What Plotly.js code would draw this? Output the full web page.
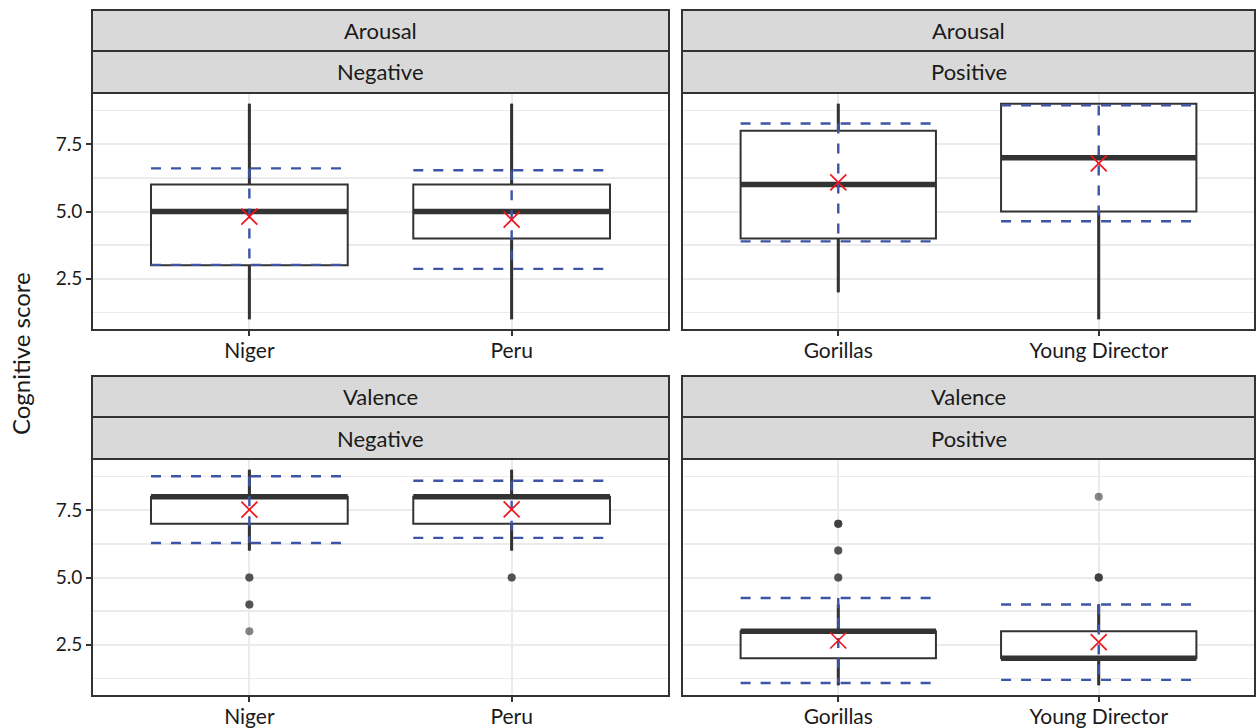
<!DOCTYPE html>
<html>
<head>
<meta charset="utf-8">
<script src="https://cdn.plot.ly/plotly-3.0.1.min.js"></script>
<style>html,body{margin:0;padding:0;background:#fff;}#chart{width:1256px;height:728px;}</style>
</head>
<body>
<div id="chart"></div>
<script>
// ---- data ----
const rowLabels = ['Arousal', 'Arousal', 'Valence', 'Valence'];
const colLabels = ['Negative', 'Positive', 'Negative', 'Positive'];
const categories = [['Niger', 'Peru'], ['Gorillas', 'Young Director'], ['Niger', 'Peru'], ['Gorillas', 'Young Director']];
const lowerWhisker = [[1, 1], [2, 1], [6, 6], [1, 1]];
const q1 = [[3, 4], [4, 5], [7, 7], [2, 2]];
const medians = [[5, 5], [6, 7], [8, 8], [3, 2]];
const q3 = [[6, 6], [8, 9], [8, 8], [3, 3]];
const upperWhisker = [[9, 9], [9, 9], [9, 9], [4, 4]];
const means = [[4.81, 4.70], [6.08, 6.79], [7.52, 7.53], [2.66, 2.60]];
const sds = [[1.79, 1.83], [2.19, 2.15], [1.24, 1.06], [1.58, 1.40]];
const outliers = [[[], []], [[], []], [[5, 5, 4, 4, 3], [5, 5]], [[5, 5, 6, 6, 7, 7, 7], [5, 5, 5, 8]]];
const yTickVals = [2.5, 5.0, 7.5];
const yTickText = ['2.5', '5.0', '7.5'];
const yTitle = 'Cognitive score';

// ---- layout constants ----
const W = 1256, H = 728;
const colDom = [[92 / W, 669 / W], [682 / W, 1255 / W]];
const rowDom = [[1 - 330 / H, 1 - 93 / H], [1 - 696 / H, 1 - 459 / H]];
const stripPx = [[[10, 51], [51, 93]], [[376, 417], [417, 459]]];
const halfW = 0.375;
const FONT = 'Lato, "Open Sans", sans-serif';
const dark = '#333333';
const blue = '#3C55A6';

const traces = [];
const layout = {
  width: W, height: H,
  margin: {l: 0, r: 0, t: 0, b: 0},
  paper_bgcolor: '#ffffff', plot_bgcolor: '#ffffff',
  showlegend: false,
  font: {family: FONT, color: '#333333', size: 16},
  shapes: [], annotations: []
};

for (let p = 0; p < 4; p++) {
  const r = Math.floor(p / 2), c = p % 2;
  const sfx = p === 0 ? '' : String(p + 1);
  const xa = 'x' + sfx, ya = 'y' + sfx;
  const cats = categories[p];
  const xs = cats.map((_, i) => i + 1);

  layout['xaxis' + sfx] = {
    domain: colDom[c], anchor: ya, range: [0.4, 2.6],
    tickvals: xs, ticktext: cats,
    ticks: 'outside', ticklen: 5, tickwidth: 2, tickcolor: dark,
    ticklabelstandoff: -3,
    showgrid: true, gridcolor: '#EBEBEB', gridwidth: 2,
    zeroline: false, showline: false,
    tickfont: {family: FONT, size: 21, color: '#1a1a1a'}, fixedrange: true
  };
  layout['yaxis' + sfx] = {
    domain: rowDom[r], anchor: xa, range: [0.6, 9.4],
    tickvals: yTickVals, ticktext: yTickText,
    showticklabels: c === 0,
    ticks: c === 0 ? 'outside' : '', ticklen: 5, tickwidth: 2, tickcolor: dark,
    showgrid: true, gridcolor: '#EBEBEB', gridwidth: 2,
    minor: {tickvals: [1.25, 3.75, 6.25, 8.75], showgrid: true, gridcolor: '#EBEBEB', gridwidth: 1.6, ticks: ''},
    zeroline: false, showline: false,
    tickfont: {family: FONT, size: 19, color: '#1a1a1a'}, fixedrange: true
  };

  // panel border
  layout.shapes.push({type: 'rect', xref: xa + ' domain', yref: ya + ' domain', x0: 0, x1: 1, y0: 0, y1: 1,
    line: {color: dark, width: 2}, fillcolor: 'rgba(0,0,0,0)', layer: 'above'});
  // strips
  const labels = [rowLabels[p], colLabels[p]];
  for (let s = 0; s < 2; s++) {
    const [t0, t1] = stripPx[r][s];
    layout.shapes.push({type: 'rect', xref: 'paper', yref: 'paper', x0: colDom[c][0], x1: colDom[c][1],
      y0: 1 - t1 / H, y1: 1 - t0 / H, line: {color: dark, width: 2}, fillcolor: '#D9D9D9', layer: 'above'});
    layout.annotations.push({xref: 'paper', yref: 'paper', x: (colDom[c][0] + colDom[c][1]) / 2,
      y: 1 - (t0 + t1) / 2 / H, text: labels[s], showarrow: false, xanchor: 'center', yanchor: 'middle',
      font: {family: FONT, size: 22, color: '#1a1a1a'}});
  }

  cats.forEach((cat, i) => {
    const x = xs[i];
    // box
    traces.push({type: 'box', xaxis: xa, yaxis: ya, x: [x], q1: [q1[p][i]], median: [medians[p][i]],
      q3: [q3[p][i]], lowerfence: [lowerWhisker[p][i]], upperfence: [upperWhisker[p][i]],
      width: 2 * halfW, whiskerwidth: 0, boxpoints: false,
      line: {color: dark, width: 2}, fillcolor: '#ffffff', hoverinfo: 'skip'});
    // heavier whiskers
    [[lowerWhisker[p][i], q1[p][i]], [q3[p][i], upperWhisker[p][i]]].forEach(seg => {
      if (seg[0] !== seg[1]) {
        traces.push({type: 'scatter', mode: 'lines', xaxis: xa, yaxis: ya, x: [x, x], y: seg,
          line: {color: dark, width: 3}, hoverinfo: 'skip'});
      }
    });
    // thick median
    traces.push({type: 'scatter', mode: 'lines', xaxis: xa, yaxis: ya,
      x: [x - halfW, x + halfW], y: [medians[p][i], medians[p][i]],
      line: {color: dark, width: 5.5}, hoverinfo: 'skip'});
    // outliers
    if (outliers[p][i].length) {
      traces.push({type: 'scatter', mode: 'markers', xaxis: xa, yaxis: ya,
        x: outliers[p][i].map(() => x), y: outliers[p][i],
        marker: {color: dark, size: 8, opacity: 0.6, line: {width: 0}}, hoverinfo: 'skip'});
    }
    const m = means[p][i], s = sds[p][i];
    // mean +/- sd horizontal dashed lines
    [m + s, m - s].forEach(v => {
      traces.push({type: 'scatter', mode: 'lines', xaxis: xa, yaxis: ya,
        x: [x - halfW, x + halfW], y: [v, v],
        line: {color: blue, width: 2.4, dash: '10px,10px'}, hoverinfo: 'skip'});
    });
    // vertical dashed
    traces.push({type: 'scatter', mode: 'lines', xaxis: xa, yaxis: ya,
      x: [x, x], y: [m + s, m - s],
      line: {color: blue, width: 2.4, dash: '10px,10px'}, hoverinfo: 'skip'});
    // mean marker
    traces.push({type: 'scatter', mode: 'markers', xaxis: xa, yaxis: ya, x: [x], y: [m],
      marker: {symbol: 'x-thin-open', size: 16, color: '#F0141E', line: {color: '#F0141E', width: 1.7}},
      hoverinfo: 'skip'});
  });
}

layout.annotations.push({xref: 'paper', yref: 'paper', x: 20 / W, y: 1 - 354 / H, text: yTitle,
  textangle: -90, showarrow: false, xanchor: 'center', yanchor: 'middle',
  font: {family: FONT, size: 24, color: '#1a1a1a'}});

Plotly.newPlot('chart', traces, layout, {staticPlot: true, displayModeBar: false});
</script>
</body>
</html>
